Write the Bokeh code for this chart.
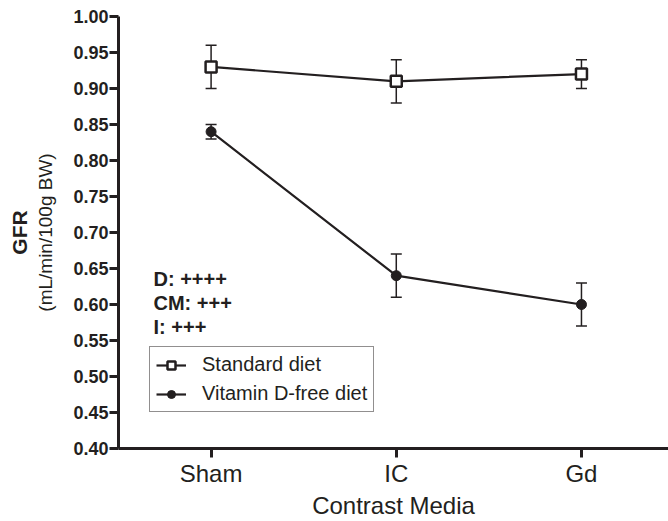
import numpy as np
from bokeh.plotting import figure
from bokeh.models import (Range1d, FixedTicker, NumeralTickFormatter, Whisker, TeeHead,
                          ColumnDataSource, Legend, LegendItem, Label, Title)
from bokeh.embed import file_html
from bokeh.resources import INLINE

# ---- data ----
categories = ["Sham", "IC", "Gd"]
standard_mean = [0.93, 0.91, 0.92]
standard_err = [0.03, 0.03, 0.02]
vitd_free_mean = [0.84, 0.64, 0.60]
vitd_free_err = [0.01, 0.03, 0.03]
y_ticks = [0.40, 0.45, 0.50, 0.55, 0.60, 0.65, 0.70, 0.75, 0.80, 0.85, 0.90, 0.95, 1.00]
stats_lines = ["D: ++++", "CM: +++", "I: +++"]
series_names = ["Standard diet", "Vitamin D-free diet"]

INK = "#231f20"
FONT = "Liberation Sans"

FIG_W, FIG_H = 668, 521
BL, BT, BB, BR = 118, 16, 72, 0
X0, X1 = -0.5, 2.47
Y0, Y1 = 0.40, 1.00
fw = FIG_W - BL - BR
fh = FIG_H - BT - BB


def cx(px):  # frame-relative px -> data x
    return X0 + px / fw * (X1 - X0)


def cy(py):  # frame-relative px (from top) -> data y
    return Y1 - py / fh * (Y1 - Y0)


p = figure(width=FIG_W, height=FIG_H, output_backend="svg", toolbar_location=None,
           title=None,
           x_range=Range1d(X0, X1), y_range=Range1d(Y0, Y1),
           min_border_left=BL, min_border_top=BT, min_border_bottom=BB, min_border_right=BR)
p.outline_line_color = None
p.xgrid.visible = False
p.ygrid.visible = False
p.background_fill_color = "white"

xs = list(range(len(categories)))

# error bars
for mean, err in ((standard_mean, standard_err), (vitd_free_mean, vitd_free_err)):
    src = ColumnDataSource(dict(x=xs,
                                upper=[m + e for m, e in zip(mean, err)],
                                lower=[m - e for m, e in zip(mean, err)]))
    w = Whisker(source=src, base="x", upper="upper", lower="lower",
                line_color=INK, line_width=1.5,
                upper_head=TeeHead(size=11, line_color=INK, line_width=1.5),
                lower_head=TeeHead(size=11, line_color=INK, line_width=1.5))
    p.add_layout(w)

l1 = p.line(xs, standard_mean, line_color=INK, line_width=2.2)
s1 = p.scatter(xs, standard_mean, marker="square", size=11, fill_color="white",
               line_color=INK, line_width=2.5)
l2 = p.line(xs, vitd_free_mean, line_color=INK, line_width=2.2)
s2 = p.scatter(xs, vitd_free_mean, marker="circle", size=10, fill_color=INK,
               line_color=INK, line_width=1)

# axes
p.xaxis.ticker = FixedTicker(ticks=xs)
p.xaxis.major_label_overrides = {i: c for i, c in enumerate(categories)}
p.yaxis.ticker = FixedTicker(ticks=y_ticks)
p.yaxis.formatter = NumeralTickFormatter(format="0.00")
for ax in (p.xaxis[0], p.yaxis[0]):
    ax.axis_line_width = 3
    ax.axis_line_color = INK
    ax.major_tick_line_width = 3
    ax.major_tick_line_color = INK
    ax.major_tick_out = 9
    ax.major_tick_in = 0
    ax.minor_tick_line_color = None
    ax.major_label_text_color = INK
    ax.major_label_text_font = FONT
p.yaxis.major_label_text_font_size = "18px"
p.yaxis.major_label_text_font_style = "bold"
p.yaxis.major_label_standoff = 1
p.yaxis.axis_label = "(mL/min/100g BW)"
p.yaxis.axis_label_text_font = FONT
p.yaxis.axis_label_text_font_size = "19px"
p.yaxis.axis_label_text_font_style = "normal"
p.yaxis.axis_label_text_color = INK
p.yaxis.axis_label_standoff = 14

p.xaxis.major_label_text_font_size = "24px"
p.xaxis.major_label_standoff = 2
p.xaxis.axis_label = "Contrast Media"
p.xaxis.axis_label_text_font = FONT
p.xaxis.axis_label_text_font_size = "24px"
p.xaxis.axis_label_text_font_style = "normal"
p.xaxis.axis_label_text_color = INK
p.xaxis.axis_label_standoff = 2

p.add_layout(Title(text="GFR", align="center", text_font=FONT, text_font_size="21px",
                   text_font_style="bold", text_color=INK, standoff=3), "left")

# statistics text
for i, t in enumerate(stats_lines):
    p.add_layout(Label(x=cx(35), y=cy(263 + 24 * i), text=t, text_align="left",
                       text_baseline="middle", text_font=FONT, text_font_size="20px",
                       text_font_style="bold", text_color=INK))

legend = Legend(items=[LegendItem(label=series_names[0], renderers=[l1, s1]),
                       LegendItem(label=series_names[1], renderers=[l2, s2])],
                location=(31, 36), orientation="vertical")
legend.label_text_font = FONT
legend.label_text_font_size = "20px"
legend.label_text_color = INK
legend.glyph_width = 30
legend.glyph_height = 20
legend.label_height = 20
legend.label_standoff = 16
legend.spacing = 6
legend.padding = 6
legend.margin = 0
legend.border_line_color = INK
legend.border_line_width = 1.5
legend.background_fill_alpha = 1
p.add_layout(legend, "center")

open("out.html", "w").write(file_html(p, INLINE))
